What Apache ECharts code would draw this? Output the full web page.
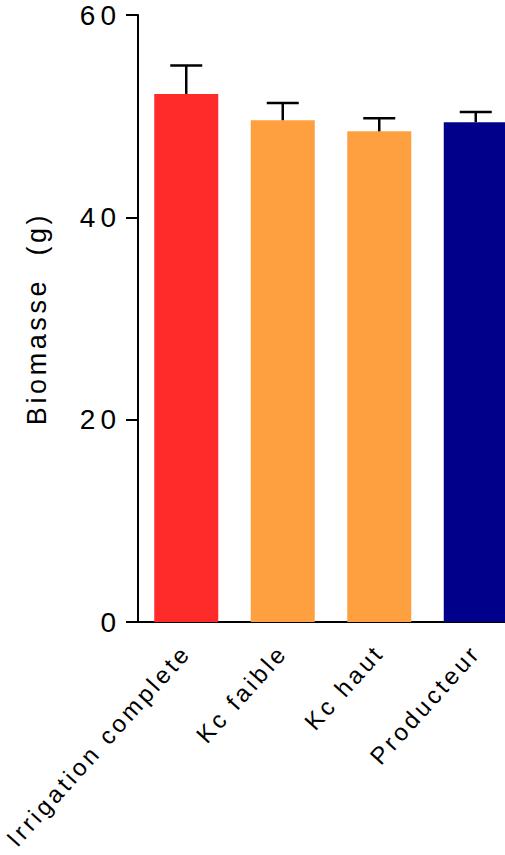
<!DOCTYPE html>
<html><head><meta charset="utf-8">
<script src="https://cdn.jsdelivr.net/npm/echarts@6/dist/echarts.min.js"></script>
<style>
html,body{margin:0;padding:0;background:#fff;overflow:hidden;width:505px;height:855px}
#c{width:524px;height:855px}
#c text{white-space:pre;letter-spacing:3.6px}
</style>
</head><body><div id="c"></div>
<script>
const categories = ['Irrigation complete', 'Kc faible', 'Kc haut', 'Producteur'];
const biomass = [52.2, 49.6, 48.5, 49.4];
const errUp = [2.8, 1.7, 1.3, 1.0];
const barColors = ['#FF2A2A', '#FFA040', '#FFA040', '#00008B'];
const yMin = 0, yMax = 60, yStep = 20;
const yName = 'Biomasse\u00A0 (g)';

const chart = echarts.init(document.getElementById('c'), null, {renderer: 'svg'});
const font = '"Liberation Sans", Arial, sans-serif';
chart.setOption({
  animation: false,
  backgroundColor: '#fff',
  grid: {left: 138, right: 0, top: 15, bottom: 233, containLabel: false},
  xAxis: {
    type: 'category',
    data: categories,
    axisLine: {lineStyle: {color: '#000', width: 2}},
    axisTick: {show: false},
    axisLabel: {interval: 0, rotate: 48, margin: 26, color: '#000', fontSize: 24, fontFamily: font}
  },
  yAxis: {
    type: 'value',
    min: yMin, max: yMax, interval: yStep,
    name: yName,
    nameLocation: 'middle',
    nameRotate: 90,
    nameGap: 88,
    nameTextStyle: {color: '#000', fontSize: 27, fontFamily: font},
    axisLine: {show: true, lineStyle: {color: '#000', width: 2}},
    axisTick: {show: true, length: 12, lineStyle: {color: '#000', width: 2}},
    axisLabel: {margin: 17, color: '#000', fontSize: 28, fontFamily: font},
    splitLine: {show: false}
  },
  series: [
    {
      type: 'bar',
      barWidth: 64,
      data: biomass.map((v, i) => ({value: v, itemStyle: {color: barColors[i]}})),
      z: 2
    },
    {
      type: 'custom',
      z: 3,
      data: categories.map((c, i) => [i, biomass[i], errUp[i]]),
      renderItem: function (params, api) {
        const x = api.value(0), v = api.value(1), e = api.value(2);
        const p0 = api.coord([x, v]);
        const p1 = api.coord([x, v + e]);
        const hw = 16;
        return {
          type: 'group',
          children: [
            {type: 'line', shape: {x1: p0[0], y1: p0[1], x2: p1[0], y2: p1[1]}, style: {stroke: '#000', lineWidth: 2.5}},
            {type: 'line', shape: {x1: p1[0] - hw, y1: p1[1], x2: p1[0] + hw, y2: p1[1]}, style: {stroke: '#000', lineWidth: 2.5}}
          ]
        };
      }
    }
  ]
});
// letter spacing of SVG texts, chosen by which text it is
const svg = document.querySelector('#c svg');
svg.querySelectorAll('text').forEach(t => {
  const s = t.textContent;
  if (categories.indexOf(s) >= 0) t.style.letterSpacing = '3.4px';
  else if (/^\d+$/.test(s.trim())) t.style.letterSpacing = '5px';
});
</script></body></html>
